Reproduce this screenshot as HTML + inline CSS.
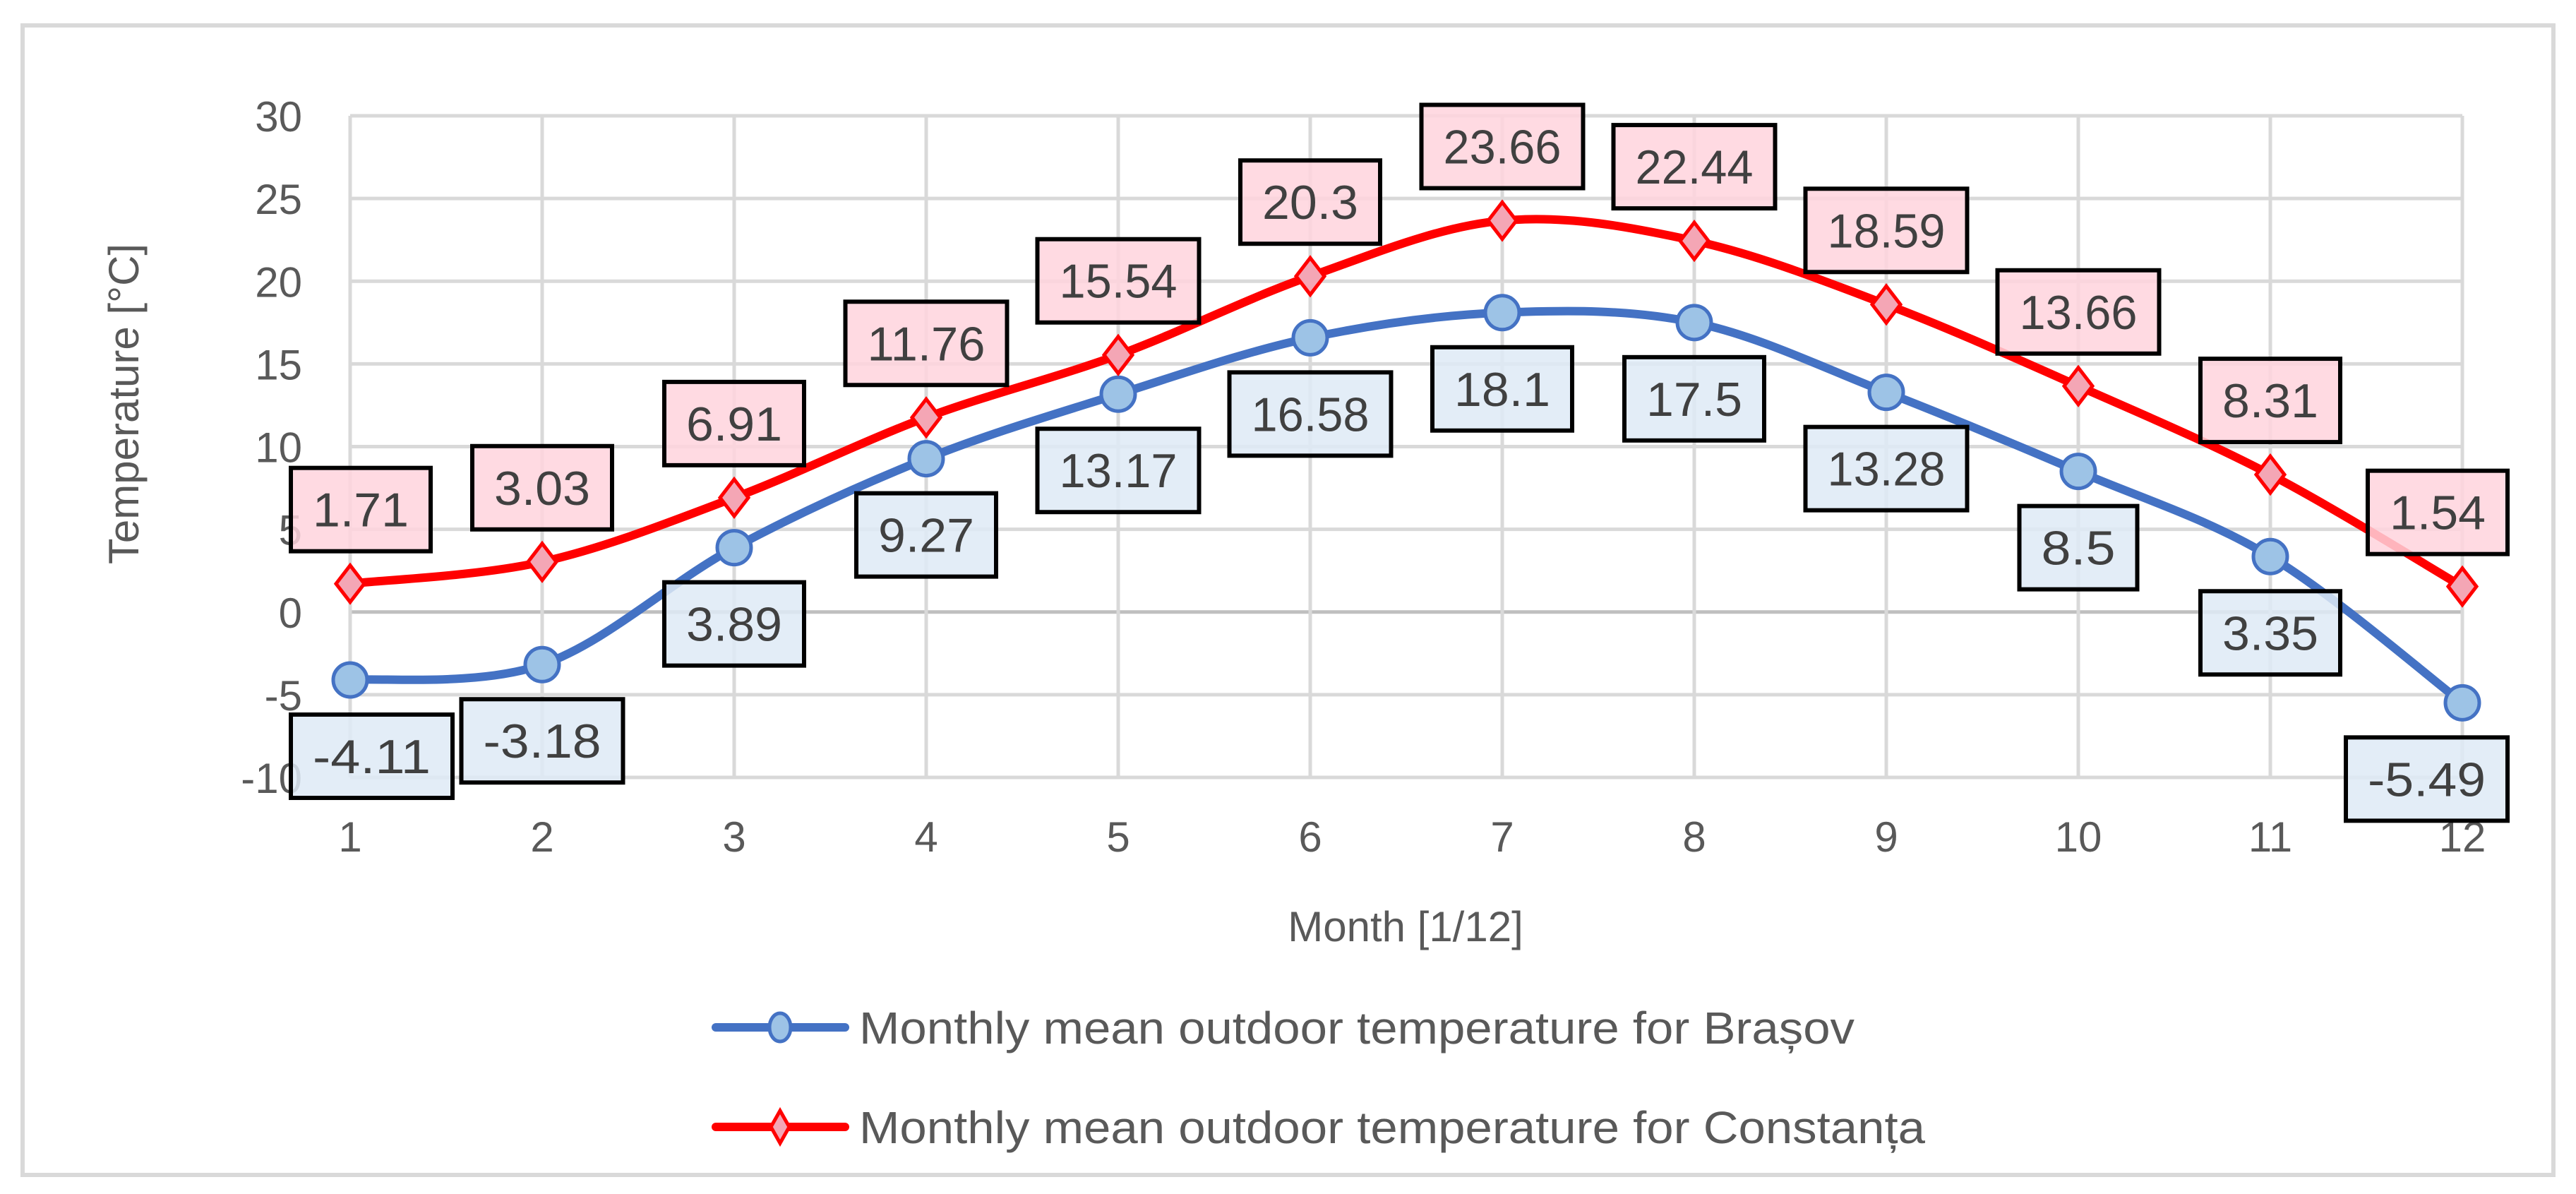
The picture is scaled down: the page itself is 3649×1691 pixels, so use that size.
<!DOCTYPE html>
<html><head><meta charset="utf-8">
<style>
html,body{margin:0;padding:0;background:#fff;}
svg{display:block;font-family:"Liberation Sans",sans-serif;}
</style></head>
<body>
<svg id="chart" width="3649" height="1691" viewBox="0 0 3649 1691" xmlns="http://www.w3.org/2000/svg">
  <rect x="32" y="36" width="3585" height="1628" fill="#fff" stroke="#D9D9D9" stroke-width="6"/>
  <g id="grid"></g>
  <g id="axes"></g>
  <g id="series"></g>
  <g id="labels"></g>
  <text transform="translate(180,572) rotate(-90)" text-anchor="middle" font-size="60" fill="#595959" dominant-baseline="middle">Temperature [°C]</text>
  <text x="1991" y="1333" text-anchor="middle" font-size="60" fill="#595959">Month [1/12]</text>
  <g>
    <g>
      <line x1="1014" y1="1455" x2="1197" y2="1455" stroke="#4472C4" stroke-width="12" stroke-linecap="round"/>
      <ellipse cx="1105" cy="1455" rx="15" ry="20" fill="#9DC3E6" stroke="#4472C4" stroke-width="5"/>
      <text x="1217" y="1478" font-size="64" fill="#595959" textLength="1410" lengthAdjust="spacingAndGlyphs">Monthly mean outdoor temperature for Brașov</text>
    </g>
    <g>
      <line x1="1014" y1="1596" x2="1197" y2="1596" stroke="#FF0000" stroke-width="12" stroke-linecap="round"/>
      <path d="M1105 1573 L1118 1596 L1105 1619 L1092 1596 Z" fill="#F4A6B5" stroke="#FF0000" stroke-width="5"/>
      <text x="1217" y="1619" font-size="64" fill="#595959" textLength="1510" lengthAdjust="spacingAndGlyphs">Monthly mean outdoor temperature for Constanța</text>
    </g>
  </g>
</svg>
<script>
const months = [1,2,3,4,5,6,7,8,9,10,11,12];
const brasov = [-4.11,-3.18,3.89,9.27,13.17,16.58,18.1,17.5,13.28,8.5,3.35,-5.49];
const constanta = [1.71,3.03,6.91,11.76,15.54,20.3,23.66,22.44,18.59,13.66,8.31,1.54];
const yTicks = [-10,-5,0,5,10,15,20,25,30];

const NS = "http://www.w3.org/2000/svg";
const X0 = 496, X1 = 3488, Y0 = 1101, Y1 = 164, YMIN = -10, YMAX = 30;
function xScale(m){ return X0 + (m - months[0]) / (months[months.length-1] - months[0]) * (X1 - X0); }
function yScale(v){ return Y0 - (v - YMIN) / (YMAX - YMIN) * (Y0 - Y1); }
function mk(tag, attrs, parent){ const e = document.createElementNS(NS, tag); for (const k in attrs) e.setAttribute(k, attrs[k]); parent.appendChild(e); return e; }

const grid = document.getElementById('grid');
const axes = document.getElementById('axes');
yTicks.forEach(t => {
  const l = mk('line', {x1: X0, x2: X1, y1: yScale(t), y2: yScale(t), stroke: t === 0 ? '#BFBFBF' : '#D9D9D9', 'stroke-width': 5}, grid);
  
  
  const tx = mk('text', {x: 428, y: yScale(t) + 22, 'text-anchor': 'end', 'font-size': 60, fill: '#595959'}, axes);
  tx.textContent = t;
  
  
});
months.forEach(m => {
  const l = mk('line', {x1: xScale(m), x2: xScale(m), y1: Y1, y2: Y0, stroke: '#D9D9D9', 'stroke-width': 5}, grid);
  
  
  const tx = mk('text', {x: xScale(m), y: 1206, 'text-anchor': 'middle', 'font-size': 60, fill: '#595959'}, axes);
  tx.textContent = m;
  
  
});

function smoothPath(vals){
  const p = vals.map((v,i) => [xScale(months[i]), yScale(v)]);
  let d = `M${p[0][0]} ${p[0][1]}`;
  for (let i = 0; i < p.length - 1; i++){
    const p0 = p[Math.max(0,i-1)], p1 = p[i], p2 = p[i+1], p3 = p[Math.min(p.length-1,i+2)];
    const c1 = [p1[0] + (p2[0]-p0[0])/6, p1[1] + (p2[1]-p0[1])/6];
    const c2 = [p2[0] - (p3[0]-p1[0])/6, p2[1] - (p3[1]-p1[1])/6];
    d += ` C${c1[0]} ${c1[1]} ${c2[0]} ${c2[1]} ${p2[0]} ${p2[1]}`;
  }
  return d;
}
const series = document.getElementById('series');
const bl = mk('path', {d: smoothPath(brasov), fill: 'none', stroke: '#4472C4', 'stroke-width': 12}, series);


const rl = mk('path', {d: smoothPath(constanta), fill: 'none', stroke: '#FF0000', 'stroke-width': 12}, series);


brasov.forEach((v,i) => {
  const c = mk('circle', {cx: xScale(months[i]), cy: yScale(v), r: 24, fill: '#9DC3E6', stroke: '#4472C4', 'stroke-width': 5}, series);
  
  
});
constanta.forEach((v,i) => {
  const x = xScale(months[i]), y = yScale(v);
  const d = mk('path', {d: `M${x} ${y-26} L${x+20} ${y} L${x} ${y+26} L${x-20} ${y} Z`, fill: '#F4A6B5', stroke: '#FF0000', 'stroke-width': 5}, series);
  
  
});

const labels = document.getElementById('labels');
function addLabel(v, i, above, fill, name){
  const g = mk('g', {}, labels);
  
  
  const px = xScale(months[i]), py = yScale(v);
  const cy = above ? py - 105 : py + 108;
  const t = mk('text', {'text-anchor': 'middle', 'font-size': 68, fill: '#404040'}, g);
  t.textContent = String(v);
  const tw = String(v).length * 31 + 12;
  const w = tw + 62, h = 118;
  let cx = px;
  cx = Math.max(cx, 412 + w/2);
  cx = Math.min(cx, 3552 - w/2);
  const r = mk('rect', {x: cx - w/2, y: cy - h/2, width: w, height: h, fill: fill, 'fill-opacity': 0.85, stroke: '#000', 'stroke-width': 6}, g);
  g.insertBefore(r, t);
  t.setAttribute('x', cx);
  t.setAttribute('y', cy + 24);
  t.setAttribute('textLength', tw);
  t.setAttribute('lengthAdjust', 'spacingAndGlyphs');
}
constanta.forEach((v,i) => addLabel(v, i, true, '#FFD3DD', 'constanta-data-label'));
brasov.forEach((v,i) => addLabel(v, i, false, '#DEEAF6', 'brasov-data-label'));
</script>
</body></html>
